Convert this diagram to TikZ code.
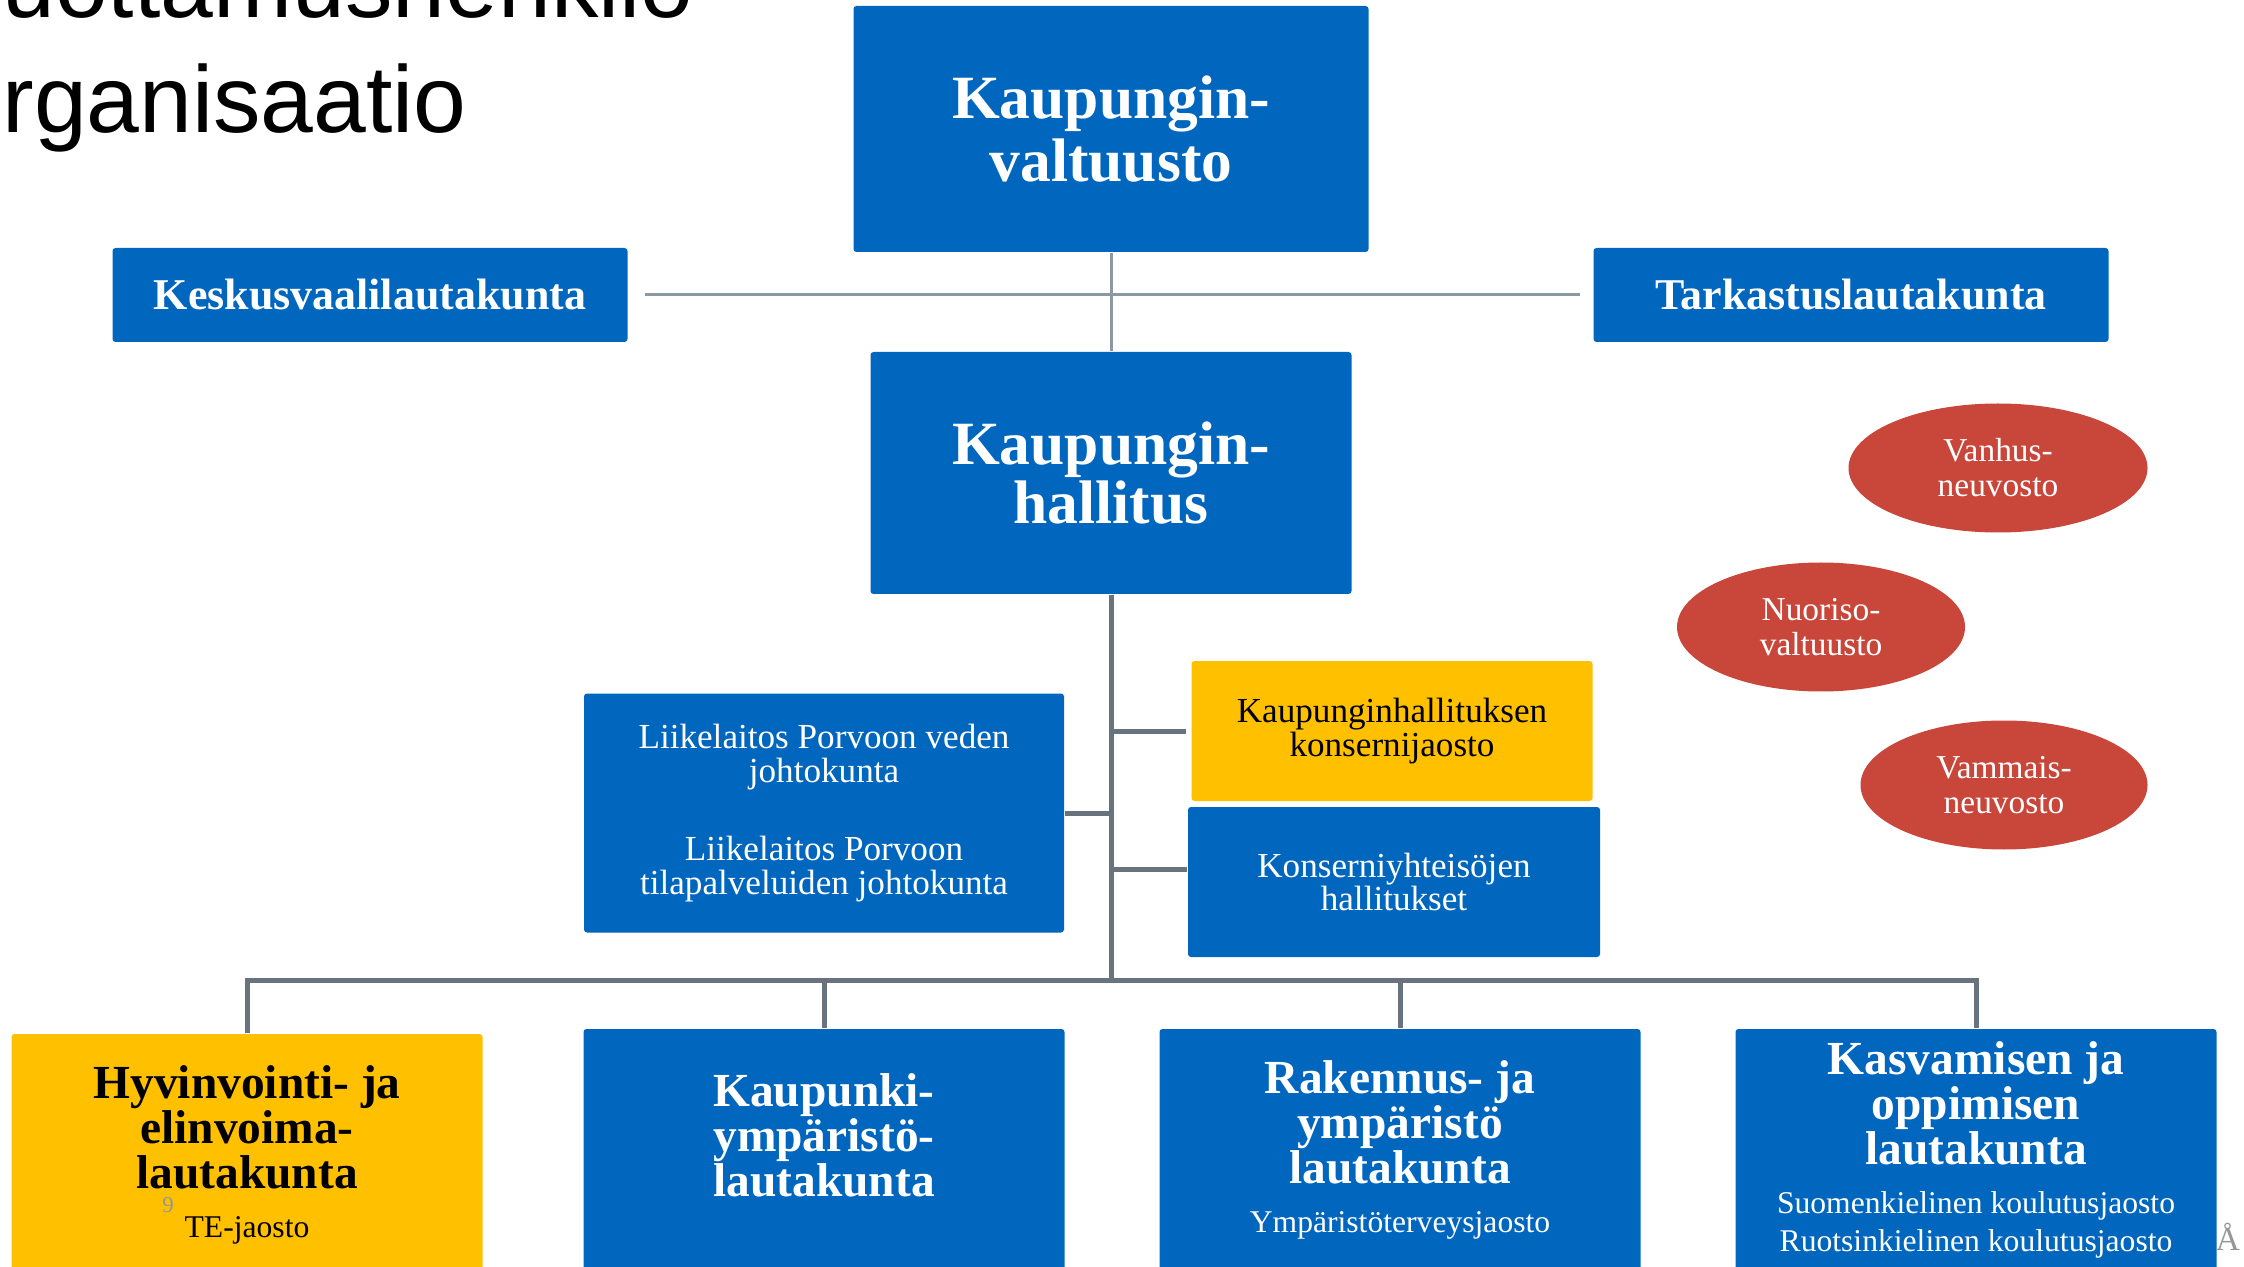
\documentclass[tikz,border=0pt]{standalone}
\usepackage{fontspec}
\setmainfont{Liberation Serif}
\newfontfamily\titlefont{Liberation Sans}
\usetikzlibrary{shapes.geometric}
\definecolor{orgblue}{RGB}{0,102,190}
\definecolor{orgyellow}{RGB}{255,192,0}
\definecolor{orgred}{RGB}{200,70,58}
\definecolor{topgray}{RGB}{140,152,162}
\definecolor{lowgray}{RGB}{105,115,125}
\definecolor{notegray}{RGB}{150,150,150}
\newcommand{\subfont}{\mdseries\fontsize{9}{10.8}\selectfont}
\tikzset{
bigbox/.style={
	rectangle,
	rounded corners=0.3mm,
	fill=orgblue,
	text=white,
	align=center,
	inner sep=0pt,
	font=\bfseries\fontsize{17.5}{18}\selectfont
},
namebox/.style={
	bigbox,
	minimum width=51.5mm,
	minimum height=9.4mm,
	font=\bfseries\fontsize{12.5}{14}\selectfont
},
smbox/.style={
	bigbox,
	font=\fontsize{10}{9.6}\selectfont
},
lowbox/.style={
	bigbox,
	minimum width=48.1mm,
	minimum height=24.2mm,
	font=\bfseries\fontsize{13.5}{12.8}\selectfont
},
redoval/.style={
	ellipse,
	fill=orgred,
	text=white,
	align=center,
	inner sep=0pt,
	minimum width=29.9mm,
	minimum height=12.9mm,
	font=\fontsize{9.5}{10}\selectfont
},
topline/.style={draw=topgray, line width=0.3mm},
lowline/.style={draw=lowgray, line width=0.5mm}
}
\begin{document}
\begin{tikzpicture}[x=0.1mm,y=-0.1mm]
	\useasboundingbox (0,0) rectangle (2244,1267);
	\fill[white] (0,0) rectangle (2244,1267);
	\clip (0,0) rectangle (2244,1267);
	% otsikko
	\node[anchor=base west, align=left, inner sep=0pt, font=\titlefont\fontsize{27}{33}\selectfont] (otsikko) at (-51,133) {Luottamushenkilö\\organisaatio};
	% ylätaso
	\node[bigbox, minimum width=51.5mm, minimum height=24.6mm] (valtuusto) at (1111,129) {Kaupungin-\\valtuusto};
	\node[namebox] (keskus) at (370,295) {Keskusvaalilautakunta};
	\node[namebox] (tarkastus) at (1851,295) {Tarkastuslautakunta};
	\node[bigbox, minimum width=48.1mm, minimum height=24.2mm, font=\bfseries\fontsize{17.5}{14.5}\selectfont] (hallitus) at (1111,473) {Kaupungin-\\hallitus};
	% hallituksen alla
	\node[smbox, fill=orgyellow, text=black, minimum width=40.1mm, minimum height=14mm] (jaosto) at (1392,731) {Kaupunginhallituksen\\konsernijaosto};
	\node[smbox, minimum width=41.2mm, minimum height=15mm] (konserni) at (1394,882) {Konserniyhteisöjen\\hallitukset};
	\node[smbox, minimum width=48mm, minimum height=23.9mm] (liike) at (824,813) {Liikelaitos Porvoon veden\\johtokunta\\[4.4mm]Liikelaitos Porvoon\\tilapalveluiden johtokunta};
	% neuvostot
	\node[redoval] (vanhus) at (1998,468) {Vanhus-\\neuvosto};
	\node[redoval, minimum width=28.8mm] (nuoriso) at (1821,627) {Nuoriso-\\valtuusto};
	\node[redoval, minimum width=28.7mm] (vammais) at (2004,785) {Vammais-\\neuvosto};
	% lautakunnat
	\node[lowbox, fill=orgyellow, text=black, minimum width=47.1mm] (hyva) at (247,1155) {Hyvinvointi- ja\\elinvoima-\\lautakunta\\[1pt]{\subfont TE-jaosto}};
	\node[lowbox, text depth=3mm] (kaupunki) at (824,1150) {Kaupunki-\\ympäristö-\\lautakunta};
	\node[lowbox] (rakennus) at (1400,1150) {Rakennus- ja\\ympäristö\\lautakunta\\[1pt]{\subfont Ympäristöterveysjaosto}};
	\node[lowbox] (kasvu) at (1976,1150) {Kasvamisen ja\\oppimisen\\lautakunta\\[1pt]{\subfont Suomenkielinen koulutusjaosto}\\[-2pt]{\subfont Ruotsinkielinen koulutusjaosto}};
	% yhteydet
	\coordinate (bus) at (1111,980);
	\draw[topline] (valtuusto) -- (hallitus);
	\draw[topline, shorten <=1.7mm, shorten >=1.3mm] (keskus) -- (tarkastus);
	\draw[lowline] (hallitus) -- (bus);
	\draw[lowline] (liike) -- (liike -| bus);
	\draw[lowline, shorten >=0.5mm] (bus |- jaosto) -- (jaosto);
	\draw[lowline] ([yshift=1.3mm]konserni.west -| bus) -- ([yshift=1.3mm]konserni.west);
	\draw[lowline] (hyva.north) |- (bus) -| (kasvu.north);
	\draw[lowline] (kaupunki.north) -- (kaupunki.north |- bus);
	\draw[lowline] (rakennus.north) -- (rakennus.north |- bus);
	% sivunumero ym.
	\node[anchor=base, inner sep=0pt, text=notegray, font=\fontsize{6.5}{7}\selectfont] (sivunro) at (168,1212) {9};
	\node[anchor=base, inner sep=0pt, text=notegray, font=\fontsize{9.5}{10}\selectfont] (merkki) at (2228,1250) {Å};
\end{tikzpicture}
\end{document}
